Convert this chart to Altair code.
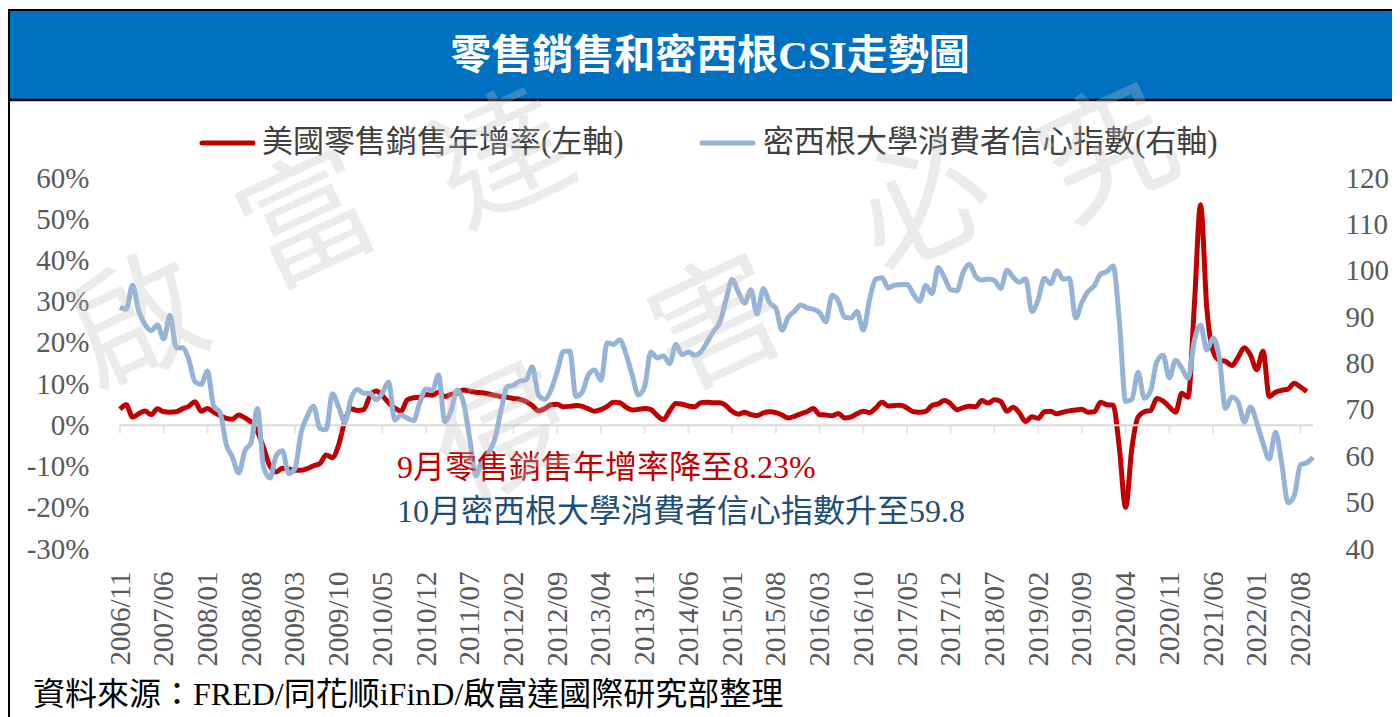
import altair as alt
import pandas as pd

# ---------------- data ----------------
start_year, start_month = 2006, 11

retail_yoy = [
    3.9, 5.0,
    2.0, 2.8, 3.5, 2.6, 4.0, 3.3, 3.2, 3.3, 4.0, 4.6, 5.7, 3.4,
    4.1, 3.2, 2.4, 1.7, 1.5, 2.5, 1.8, 0.8, -1.5, -5.5, -9.8, -11.3,
    -10.4, -10.6, -10.9, -10.9, -10.5, -9.8, -9.3, -7.2, -7.8, -4.8, 1.0, 4.0,
    3.6, 3.8, 7.0, 8.3, 7.2, 5.5, 4.2, 3.4, 6.2, 6.7, 6.8, 7.5,
    7.3, 8.0, 7.0, 7.5, 7.8, 8.6, 8.3, 8.0, 7.9, 7.6, 7.3, 7.0,
    6.8, 6.5, 6.3, 5.8, 4.8, 3.5, 4.0, 5.0, 5.1, 4.5, 4.6, 4.8,
    4.6, 4.0, 3.4, 3.8, 4.6, 5.6, 5.5, 4.4, 3.7, 3.9, 4.1, 3.8,
    2.4, 1.4, 3.5, 5.3, 5.1, 4.7, 4.5, 5.5, 5.6, 5.5, 5.5, 4.8,
    3.4, 2.7, 3.2, 2.6, 2.4, 3.0, 3.3, 3.1, 2.5, 1.8, 2.2, 2.8,
    3.3, 4.1, 2.6, 2.5, 2.3, 2.9, 1.8, 2.0, 2.8, 3.4, 3.1, 4.2,
    5.6, 4.7, 4.8, 4.9, 4.2, 3.3, 3.2, 3.4, 4.8, 5.2, 6.0, 5.2,
    3.8, 4.3, 4.6, 4.5, 6.0, 5.4, 6.2, 5.8, 3.4, 4.4, 3.0, 0.9,
    2.1, 1.7, 3.3, 3.4, 2.8, 3.2, 3.5, 3.7, 3.9, 3.2, 3.3, 5.6,
    5.0, 4.9, -5.5, -19.9, -5.6, 2.0, 3.3, 3.6, 6.5, 5.9, 4.5, 3.2,
    7.8, 6.8, 29.0, 53.5, 28.5, 18.0, 15.8, 15.5, 14.5, 16.5, 18.8, 17.0,
    13.5, 18.0, 7.0, 8.0, 8.5, 8.8, 10.2, 9.3, 8.23,
]

csi = [
    92.1, 91.7,
    96.9, 91.3, 88.4, 87.1, 88.3, 85.3, 90.4, 83.4, 83.4, 80.9, 76.1, 75.5,
    78.4, 70.8, 69.5, 62.6, 59.8, 56.4, 61.2, 63.0, 70.3, 57.6, 55.3, 60.1,
    61.2, 56.3, 57.3, 65.1, 68.7, 70.8, 66.0, 65.7, 73.5, 70.6, 67.4, 72.5,
    74.4, 73.6, 73.6, 72.2, 73.6, 76.0, 67.8, 68.9, 68.2, 67.7, 71.6, 74.5,
    74.2, 77.5, 67.5, 69.8, 74.3, 71.5, 63.7, 55.8, 59.5, 60.8, 63.7, 69.9,
    75.0, 75.3, 76.2, 76.4, 79.3, 73.2, 72.3, 74.3, 78.3, 82.6, 82.7, 72.9,
    73.8, 77.6, 78.6, 76.4, 84.5, 84.1, 85.1, 82.1, 77.5, 73.2, 75.1, 82.5,
    81.2, 81.6, 80.0, 84.1, 81.9, 82.5, 81.8, 82.5, 84.6, 86.9, 88.8, 93.6,
    98.1, 95.4, 93.0, 95.9, 90.7, 96.1, 93.1, 91.9, 87.2, 90.0, 91.3, 92.6,
    92.0, 91.7, 91.0, 89.0, 94.7, 93.5, 90.0, 89.8, 91.2, 87.2, 93.8, 98.2,
    98.5, 96.3, 96.9, 97.0, 97.1, 95.0, 93.4, 96.8, 95.1, 100.7, 98.5, 95.9,
    95.7, 99.7, 101.4, 98.8, 98.0, 98.2, 97.9, 96.2, 100.1, 98.6, 97.5, 98.3,
    91.2, 93.8, 98.4, 97.2, 100.0, 98.2, 98.4, 89.8, 93.2, 95.5, 96.8, 99.3,
    99.8, 101.0, 89.1, 71.8, 72.3, 78.1, 72.5, 74.1, 80.4, 81.8, 76.9, 80.7,
    79.0, 76.8, 84.9, 88.3, 82.9, 85.5, 81.2, 70.3, 72.8, 71.7, 67.4, 70.6,
    67.2, 62.8, 59.4, 65.2, 58.4, 50.0, 51.5, 58.2, 58.6, 59.8,
]

left_ticks = [-30, -20, -10, 0, 10, 20, 30, 40, 50, 60]
right_ticks = [40, 50, 60, 70, 80, 90, 100, 110, 120]

title_text = "零售銷售和密西根CSI走勢圖"
legend_red = "美國零售銷售年增率(左軸)"
legend_blue = "密西根大學消費者信心指數(右軸)"
note_red = "9月零售銷售年增率降至8.23%"
note_blue = "10月密西根大學消費者信心指數升至59.8"
source_text = "資料來源：FRED/同花顺iFinD/啟富達國際研究部整理"
watermark_chars = ["啟", "富", "達", "侵", "害", "必", "究"]

n = len(csi)
x_ticks = list(range(0, n, 7))

df_r = pd.DataFrame({"i": list(range(len(retail_yoy))), "v": retail_yoy})
df_c = pd.DataFrame({"i": list(range(n)), "v": csi})
df_t = pd.DataFrame({"i": x_ticks, "z": [0] * len(x_ticks)})
df_one = pd.DataFrame({"z": [0]})

# ---------------- styling ----------------
W, H = 1193, 371
SERIF = "Liberation Serif, Noto Sans CJK TC"
RED = "#C00000"
BLUE = "#95B3D7"
GRAY_TXT = "#595959"

xs = alt.Scale(domain=[0, n - 1], nice=False, zero=False)
ysL = alt.Scale(domain=[left_ticks[0], left_ticks[-1]], nice=False, zero=False)
ysR = alt.Scale(domain=[right_ticks[0], right_ticks[-1]], nice=False, zero=False)

m0 = start_month - 1
label_expr = (
    f"({start_year} + floor((datum.value + {m0}) / 12)) + '/' + "
    f"(((datum.value + {m0}) % 12 + 1) < 10 ? '0' : '') + ((datum.value + {m0}) % 12 + 1)"
)
xaxis = alt.Axis(
    values=x_ticks, labelExpr=label_expr, labelAngle=270, labelFontSize=29,
    labelFont="Liberation Serif", labelColor=GRAY_TXT, labelPadding=22, domain=False,
    ticks=False, grid=False, title=None, labelOverlap=False, labelFlush=False,
    labelBound=False,
)

red_line = alt.Chart(df_r).mark_line(
    color=RED, strokeWidth=5, interpolate="monotone", strokeJoin="round"
).encode(
    x=alt.X("i:Q", scale=xs, axis=xaxis),
    y=alt.Y("v:Q", scale=ysL, axis=alt.Axis(
        orient="left", values=left_ticks, labelExpr="datum.value + '%'",
        labelFontSize=29, labelFont="Liberation Serif", labelColor=GRAY_TXT,
        labelPadding=31, domain=False, ticks=False, grid=False, title=None,
        labelFlush=False, labelOverlap=False)),
)

blue_line = alt.Chart(df_c).mark_line(
    color=BLUE, strokeWidth=5, interpolate="monotone", strokeJoin="round"
).encode(
    x=alt.X("i:Q", scale=xs, axis=xaxis),
    y=alt.Y("v:Q", scale=ysR, axis=alt.Axis(
        orient="right", values=right_ticks, labelFontSize=29,
        labelFont="Liberation Serif", labelColor=GRAY_TXT, labelPadding=32,
        domain=False, ticks=False, grid=False, title=None, labelFlush=False,
        labelOverlap=False)),
)

zero_rule = alt.Chart(df_one).mark_rule(color="#D9D9D9", strokeWidth=2).encode(
    x=alt.value(0), x2=alt.value(W),
    y=alt.Y("z:Q", scale=ysL, axis=None),
)

zero_ticks = alt.Chart(df_t).mark_tick(
    orient="vertical", size=8, thickness=2, color="#D9D9D9", yOffset=4
).encode(
    x=alt.X("i:Q", scale=xs, axis=xaxis),
    y=alt.Y("z:Q", scale=ysL, axis=None),
)

# frame and title bar
title_bar = alt.Chart(df_one).mark_rect(color="#0070C0").encode(
    x=alt.value(-112), x2=alt.value(1272), y=alt.value(-167), y2=alt.value(-79)
)
top_line = alt.Chart(df_one).mark_rule(color="#000000", strokeWidth=2).encode(
    x=alt.value(-112), x2=alt.value(1272), y=alt.value(-168)
)
bar_line = alt.Chart(df_one).mark_rule(color="#000000", strokeWidth=2.5).encode(
    x=alt.value(-112), x2=alt.value(1272), y=alt.value(-78)
)
left_line = alt.Chart(df_one).mark_rule(color="#000000", strokeWidth=2).encode(
    x=alt.value(-111), y=alt.value(-168), y2=alt.value(540)
)


def text_layer(txt, x, y, size, color, align="left", weight="normal", font=SERIF):
    return alt.Chart(pd.DataFrame({"t": [txt]})).mark_text(
        align=align, baseline="middle", fontSize=size, color=color,
        font=font, fontWeight=weight,
    ).encode(x=alt.value(x), y=alt.value(y), text="t:N")


title = text_layer(title_text, 590, -121, 41, "#FFFFFF", align="center", weight="bold")

leg_red_line = alt.Chart(df_one).mark_rule(color=RED, strokeWidth=5, strokeCap="round").encode(
    x=alt.value(82), x2=alt.value(133), y=alt.value(-35)
)
leg_red_txt = text_layer(legend_red, 142, -35, 31, "#404040")
leg_blue_line = alt.Chart(df_one).mark_rule(color=BLUE, strokeWidth=5, strokeCap="round").encode(
    x=alt.value(582), x2=alt.value(633), y=alt.value(-35)
)
leg_blue_txt = text_layer(legend_blue, 643, -35, 31, "#404040")

ann_red = text_layer(note_red, 277, 290, 32, "#C00000")
ann_blue = text_layer(note_blue, 277, 334, 32, "#1F4E79")
source = text_layer(source_text, -87, 517, 32, "#000000")

# faint watermark stamp, kept fully inside the canvas
wm_pos = [(20, 150), (190, 47), (385, -15), (385, 262), (600, 150), (805, 30), (990, -20)]
watermark = [
    alt.Chart(pd.DataFrame({"t": [ch]})).mark_text(
        align="center", baseline="middle", fontSize=132, angle=335,
        font="Noto Sans CJK TC", color="#BFBFBF", opacity=0.3,
    ).encode(x=alt.value(px), y=alt.value(py), text="t:N")
    for ch, (px, py) in zip(watermark_chars, wm_pos)
]

series = alt.layer(red_line, zero_rule, zero_ticks, blue_line).resolve_scale(y="independent")

chart = alt.layer(
    title_bar, top_line, bar_line, left_line,
    series,
    leg_red_line, leg_red_txt, leg_blue_line, leg_blue_txt,
    ann_red, ann_blue, source, title, *watermark,
).properties(
    width=W, height=H,
    autosize=alt.AutoSizeParams(type="none"),
    padding={"left": 112, "top": 170, "right": 79, "bottom": 168},
    background="#FFFFFF",
).configure_view(stroke="transparent")

chart.save("out.html", embed_options={"renderer": "svg", "actions": False})
